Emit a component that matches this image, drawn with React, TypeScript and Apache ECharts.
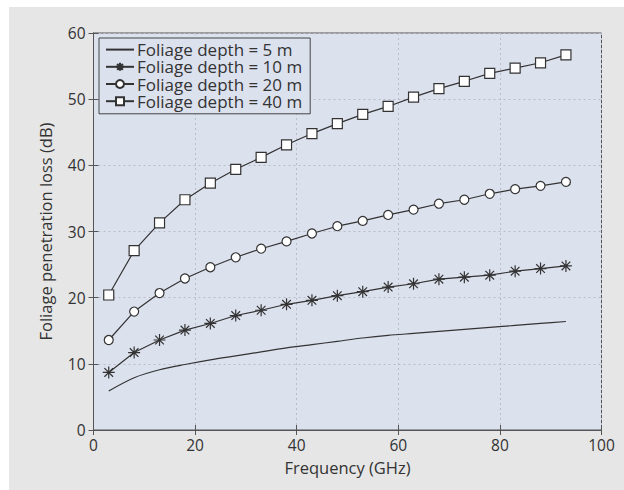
import React, { useEffect, useRef } from "react";
import * as echarts from "echarts";

const frequencies = [3, 8, 13, 18, 23, 28, 33, 38, 43, 48, 53, 58, 63, 68, 73, 78, 83, 88, 93];
const depth5 = [5.9, 7.9, 9.1, 9.9, 10.6, 11.2, 11.8, 12.4, 12.9, 13.4, 13.9, 14.3, 14.6, 14.9, 15.2, 15.5, 15.8, 16.1, 16.4];
const depth10 = [8.7, 11.7, 13.6, 15.1, 16.1, 17.3, 18.1, 19.0, 19.6, 20.3, 20.9, 21.6, 22.1, 22.8, 23.1, 23.4, 24.0, 24.4, 24.8];
const depth20 = [13.6, 17.9, 20.7, 22.9, 24.6, 26.1, 27.4, 28.5, 29.7, 30.8, 31.6, 32.5, 33.3, 34.2, 34.8, 35.7, 36.4, 36.9, 37.5];
const depth40 = [20.4, 27.1, 31.3, 34.8, 37.3, 39.4, 41.2, 43.1, 44.8, 46.3, 47.7, 48.9, 50.3, 51.6, 52.7, 53.9, 54.7, 55.5, 56.7];
const seriesNames = ["Foliage depth = 5 m", "Foliage depth = 10 m", "Foliage depth = 20 m", "Foliage depth = 40 m"];
const xTicks = [0, 20, 40, 60, 80, 100];
const yTicks = [0, 10, 20, 30, 40, 50, 60];

const FONT = "Open Sans";
const INK = "#333333";
const ASTERISK = "path://M0,-5L0,5M-5,0L5,0M-3.6,-3.6L3.6,3.6M-3.6,3.6L3.6,-3.6";

const pairs = (ys: number[]) => frequencies.map((f, i) => [f, ys[i]]);

export default function App() {
  const ref = useRef<HTMLDivElement>(null);
  useEffect(() => {
    if (!ref.current) return;
    const chart = echarts.init(ref.current, null, { renderer: "svg" });
    const tickLabel = { color: INK, fontFamily: FONT, fontSize: 15.5 };
    const baseX = {
      type: "value" as const,
      min: xTicks[0],
      max: xTicks[xTicks.length - 1],
      interval: 20,
    };
    const baseY = {
      type: "value" as const,
      min: yTicks[0],
      max: yTicks[yTicks.length - 1],
      interval: 10,
    };
    const lineStyle = { color: "#555", width: 1 };
    const mk = (name: string, data: number[], symbol: string, size: number) => ({
      name,
      type: "line",
      data: pairs(data),
      symbol,
      symbolSize: size,
      showSymbol: true,
      lineStyle: { color: INK, width: 1.2 },
      itemStyle: { color: symbol === ASTERISK ? INK : "#ffffff", borderColor: INK, borderWidth: 1.2 },
      emphasis: { disabled: true },
      z: 3,
    });
    chart.setOption({
      animation: false,
      backgroundColor: "#e6e6e6",
      grid: {
        left: 84.5,
        top: 26,
        right: 22.5,
        bottom: 60,
        show: true,
        backgroundColor: "#dce1ee",
        borderColor: "#555",
        borderWidth: 1,
      },
      legend: {
        orient: "vertical",
        left: 90,
        top: 31,
        itemWidth: 28,
        itemHeight: 10,
        itemGap: 0,
        padding: [3, 8, 4, 6],
        backgroundColor: "#dce1ee",
        borderColor: "#444",
        borderWidth: 1,
        textStyle: { color: INK, fontFamily: FONT, fontSize: 17, lineHeight: 17.2, padding: [0, 0, 0, -2] },
        data: seriesNames,
      },
      xAxis: [
        {
          ...baseX,
          position: "bottom",
          name: "Frequency (GHz)",
          nameLocation: "middle",
          nameGap: 29,
          nameTextStyle: { color: INK, fontFamily: FONT, fontSize: 16.5 },
          axisLine: { show: true, lineStyle },
          axisTick: { show: true, inside: true, length: 5, lineStyle },
          axisLabel: { ...tickLabel, margin: 7 },
          splitLine: { show: true, lineStyle: { color: "#b9bdc8", type: [2, 3], width: 1 } },
        },
        {
          ...baseX,
          position: "top",
          axisLine: { show: true, lineStyle },
          axisTick: { show: true, inside: true, length: 5, lineStyle },
          axisLabel: { show: false },
          splitLine: { show: false },
        },
      ],
      yAxis: [
        {
          ...baseY,
          position: "left",
          name: "Foliage penetration loss (dB)",
          nameLocation: "middle",
          nameGap: 40,
          nameTextStyle: { color: INK, fontFamily: FONT, fontSize: 16.5 },
          axisLine: { show: true, lineStyle },
          axisTick: { show: true, inside: true, length: 5, lineStyle },
          axisLabel: { ...tickLabel, margin: 8 },
          splitLine: { show: true, lineStyle: { color: "#b9bdc8", type: [2, 3], width: 1 } },
        },
        {
          ...baseY,
          position: "right",
          axisLine: { show: true, lineStyle },
          axisTick: { show: true, inside: true, length: 5, lineStyle },
          axisLabel: { show: false },
          splitLine: { show: false },
        },
      ],
      series: [
        {
          ...mk(seriesNames[0], depth5, "circle", 0),
          showSymbol: false,
          itemStyle: { color: "transparent", borderColor: "transparent", borderWidth: 0 },
          smooth: 0.3,
        },
        mk(seriesNames[1], depth10, ASTERISK, 12),
        mk(seriesNames[2], depth20, "circle", 9),
        mk(seriesNames[3], depth40, "rect", 10),
      ],
    });
    return () => chart.dispose();
  }, []);
  return (
    <div style={{ position: "fixed", left: 0, top: 0, width: 624, height: 490, background: "#ffffff" }}>
      <div ref={ref} style={{ position: "absolute", left: 9, top: 7, width: 615, height: 483 }} />
    </div>
  );
}
